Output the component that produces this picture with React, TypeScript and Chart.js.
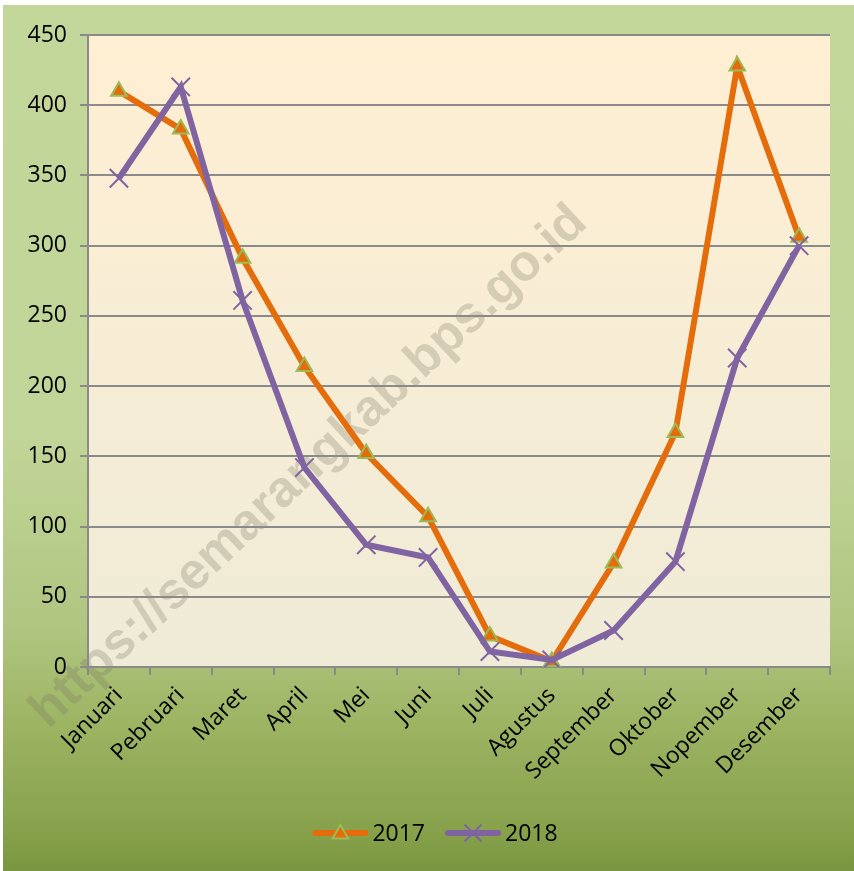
import React, { useEffect, useRef } from 'react';
import { Chart, registerables } from 'chart.js';

Chart.register(...registerables);

const months = ['Januari', 'Pebruari', 'Maret', 'April', 'Mei', 'Juni', 'Juli', 'Agustus', 'September', 'Oktober', 'Nopember', 'Desember'];
const values2017 = [410, 383, 291, 214, 152, 107, 22, 4, 74, 167, 428, 306];
const values2018 = [348, 413, 261, 142, 87, 78, 11, 5, 26, 75, 220, 300];
const seriesLabels = ['2017', '2018'];
const yMin = 0;
const yMax = 450;
const yStep = 50;
const watermarkText = 'https://semarangkab.bps.go.id';

const ORANGE = '#e46c0a';
const PURPLE = '#8064a2';
const MARKER_EDGE = '#9bbb59';
const GRID = '#8a8a8a';
const FONT = "'Open Sans', 'Liberation Sans', sans-serif";

const W = 851;
const H = 866;

function drawTriangle(ctx: CanvasRenderingContext2D, x: number, y: number, r: number) {
  ctx.beginPath();
  for (let i = 0; i < 3; i++) {
    const a = (i * 2 * Math.PI) / 3;
    const px = x + Math.sin(a) * r;
    const py = y - Math.cos(a) * r;
    if (i === 0) ctx.moveTo(px, py);
    else ctx.lineTo(px, py);
  }
  ctx.closePath();
  ctx.fillStyle = ORANGE;
  ctx.fill();
  ctx.lineWidth = 2;
  ctx.strokeStyle = MARKER_EDGE;
  ctx.stroke();
}

function drawX(ctx: CanvasRenderingContext2D, x: number, y: number, r: number) {
  const d = r * Math.SQRT1_2;
  ctx.beginPath();
  ctx.moveTo(x - d, y - d);
  ctx.lineTo(x + d, y + d);
  ctx.moveTo(x - d, y + d);
  ctx.lineTo(x + d, y - d);
  ctx.lineWidth = 2;
  ctx.strokeStyle = PURPLE;
  ctx.stroke();
}

const backgroundPlugin = {
  id: 'bgPlugin',
  beforeDraw(chart: any) {
    const { ctx, chartArea } = chart;
    ctx.save();
    const g = ctx.createLinearGradient(0, 0, 0, H);
    g.addColorStop(0, '#c4d79b');
    g.addColorStop(0.5, '#c2d598');
    g.addColorStop(0.72, '#b0c580');
    g.addColorStop(0.83, '#9db463');
    g.addColorStop(0.96, '#86a04a');
    g.addColorStop(1, '#78963f');
    ctx.fillStyle = g;
    ctx.fillRect(0, 0, W, H);

    const pg = ctx.createLinearGradient(0, chartArea.top, 0, chartArea.bottom);
    pg.addColorStop(0, '#ffefd3');
    pg.addColorStop(1, '#efebd7');
    ctx.fillStyle = pg;
    ctx.fillRect(chartArea.left, chartArea.top, chartArea.right - chartArea.left, chartArea.bottom - chartArea.top);

    // watermark
    ctx.translate(306, 462);
    ctx.rotate((-43 * Math.PI) / 180);
    ctx.font = "bold 51px 'Liberation Sans', Arial, sans-serif";
    ctx.textAlign = 'center';
    ctx.textBaseline = 'middle';
    ctx.fillStyle = 'rgba(120, 115, 95, 0.27)';
    ctx.fillText(watermarkText, 0, 0);
    ctx.restore();
  },
};

const legendPlugin = {
  id: 'customLegend',
  afterDraw(chart: any) {
    const { ctx } = chart;
    ctx.save();
    ctx.font = `23px ${FONT}`;
    ctx.textBaseline = 'middle';
    ctx.textAlign = 'left';
    const lineLen = 56;
    const gap = 4;
    const itemGap = 20;
    const w1 = ctx.measureText(seriesLabels[0]).width;
    const w2 = ctx.measureText(seriesLabels[1]).width;
    const total = 2 * (lineLen + gap) + w1 + w2 + itemGap;
    let x = 432 - total / 2;
    const y = 828;
    const items = [
      { color: ORANGE, label: seriesLabels[0], w: w1, marker: 'tri' },
      { color: PURPLE, label: seriesLabels[1], w: w2, marker: 'x' },
    ];
    for (const it of items) {
      ctx.beginPath();
      ctx.moveTo(x + 3, y);
      ctx.lineTo(x + lineLen - 3, y);
      ctx.lineWidth = 6;
      ctx.lineCap = 'round';
      ctx.strokeStyle = it.color;
      ctx.stroke();
      ctx.lineCap = 'butt';
      const mx = x + lineLen / 2;
      if (it.marker === 'tri') drawTriangle(ctx, mx, y + 1, 9);
      else drawX(ctx, mx, y, 12);
      ctx.fillStyle = '#000000';
      ctx.fillText(it.label, x + lineLen + gap, y + 1);
      x += lineLen + gap + it.w + itemGap;
    }
    ctx.restore();
  },
};

export default function App() {
  const canvasRef = useRef<HTMLCanvasElement | null>(null);

  useEffect(() => {
    const canvas = canvasRef.current;
    if (!canvas) return;
    const chart = new Chart(canvas, {
      type: 'line',
      data: {
        labels: months,
        datasets: [
          {
            label: seriesLabels[0],
            data: values2017,
            borderColor: ORANGE,
            backgroundColor: ORANGE,
            borderWidth: 6,
            pointStyle: 'triangle',
            pointRadius: 9,
            pointBorderWidth: 2,
            pointBackgroundColor: ORANGE,
            pointBorderColor: MARKER_EDGE,
            tension: 0,
            order: 1,
          },
          {
            label: seriesLabels[1],
            data: values2018,
            borderColor: PURPLE,
            backgroundColor: PURPLE,
            borderWidth: 6,
            pointStyle: 'crossRot',
            pointRadius: 13,
            pointBorderWidth: 2,
            pointBackgroundColor: PURPLE,
            pointBorderColor: PURPLE,
            tension: 0,
            order: 0,
          },
        ],
      },
      options: {
        responsive: false,
        animation: false,
        devicePixelRatio: 1,
        layout: { padding: { top: 30, right: 24, left: 0, bottom: 0 } },
        plugins: {
          legend: { display: false },
          tooltip: { enabled: false },
        },
        scales: {
          x: {
            offset: true,
            grid: {
              offset: true,
              drawOnChartArea: false,
              drawTicks: true,
              tickLength: 8,
              color: GRID,
              lineWidth: 2,
            },
            border: { display: true, color: GRID, width: 2 },
            ticks: {
              color: '#000000',
              font: { family: FONT, size: 23 },
              maxRotation: 45,
              minRotation: 45,
              padding: 7,
              autoSkip: false,
            },
            afterFit(scale: any) {
              scale.height = 204;
            },
          },
          y: {
            min: yMin,
            max: yMax,
            ticks: {
              stepSize: yStep,
              color: '#000000',
              font: { family: FONT, size: 23 },
              padding: 13,
            },
            grid: {
              color: GRID,
              lineWidth: 2,
              drawTicks: true,
              tickLength: 8,
            },
            border: { display: true, color: GRID, width: 2 },
            afterFit(scale: any) {
              scale.width = 85;
            },
          },
        },
      },
      plugins: [backgroundPlugin, legendPlugin],
    });
    return () => chart.destroy();
  }, []);

  return (
    <div style={{ position: 'absolute', left: 3, top: 5, width: W, height: H }}>
      <canvas ref={canvasRef} width={W} height={H} style={{ width: W, height: H, display: 'block' }} />
    </div>
  );
}
